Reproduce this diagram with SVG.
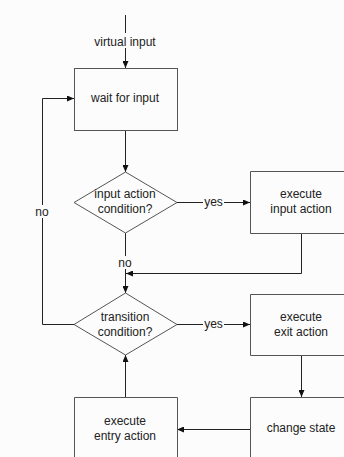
<svg xmlns="http://www.w3.org/2000/svg" width="344" height="457" viewBox="0 0 344 457">
<style>
.bg{fill:#fcfcfc}
.box{fill:none;stroke:#555;stroke-width:1}
.dia{fill:none;stroke:#555;stroke-width:1}
.ln{fill:none;stroke:#222;stroke-width:1}
text{font-family:"Liberation Sans",Arial,sans-serif;font-size:12px;fill:#222;text-anchor:middle}
</style>
<defs>
<marker id="ah" markerWidth="7" markerHeight="6" refX="7" refY="3" orient="auto" markerUnits="userSpaceOnUse">
<path d="M0,0 L7,3 L0,6 Z" fill="#111"/>
</marker>
</defs>
<rect class="bg" x="0" y="0" width="344" height="457"/>
<g id="connectors">
<line class="ln" x1="125.5" y1="15" x2="125.5" y2="33"/>
<line class="ln" x1="125.5" y1="48" x2="125.5" y2="68" marker-end="url(#ah)"/>
<line class="ln" x1="125.5" y1="130" x2="125.5" y2="172" marker-end="url(#ah)"/>
<line class="ln" x1="177" y1="202.5" x2="203" y2="202.5"/>
<line class="ln" x1="224" y1="202.5" x2="250" y2="202.5" marker-end="url(#ah)"/>
<polyline class="ln" points="301.5,233 301.5,273.5 126,273.5" marker-end="url(#ah)"/>
<line class="ln" x1="125.5" y1="233" x2="125.5" y2="256"/>
<line class="ln" x1="125.5" y1="269" x2="125.5" y2="293" marker-end="url(#ah)"/>
<line class="ln" x1="177" y1="324.5" x2="203" y2="324.5"/>
<line class="ln" x1="224" y1="324.5" x2="250" y2="324.5" marker-end="url(#ah)"/>
<polyline class="ln" points="74,324.5 42.5,324.5 42.5,218"/>
<polyline class="ln" points="42.5,205 42.5,98.5 74,98.5" marker-end="url(#ah)"/>
<line class="ln" x1="301.5" y1="355" x2="301.5" y2="397" marker-end="url(#ah)"/>
<line class="ln" x1="250" y1="429.5" x2="177" y2="429.5" marker-end="url(#ah)"/>
<line class="ln" x1="125.5" y1="397" x2="125.5" y2="355" marker-end="url(#ah)"/>
<text x="125" y="46">virtual input</text>
<text x="213.5" y="206">yes</text>
<text x="125" y="267">no</text>
<text x="42" y="216">no</text>
<text x="213.5" y="328">yes</text>
</g>
<g id="wait">
<rect class="box" x="74.5" y="68.5" width="103" height="62"/>
<text x="125" y="102">wait for input</text>
</g>
<g id="inputcond">
<polygon class="dia" points="125.5,172 177,202.5 125.5,233 74,202.5"/>
<text x="125" y="198">input action</text>
<text x="125" y="213">condition?</text>
</g>
<g id="inputaction">
<path class="box" d="M345,171.5 H250.5 V233.5 H345"/>
<text x="301" y="198">execute</text>
<text x="301" y="213">input action</text>
</g>
<g id="transcond">
<polygon class="dia" points="125.5,293 177,324.5 125.5,355 74,324.5"/>
<text x="125" y="321">transition</text>
<text x="125" y="336">condition?</text>
</g>
<g id="exitaction">
<path class="box" d="M345,294.5 H250.5 V355.5 H345"/>
<text x="301" y="321">execute</text>
<text x="301" y="336">exit action</text>
</g>
<g id="changestate">
<path class="box" d="M345,397.5 H250.5 V460"/>
<text x="301" y="432">change state</text>
</g>
<g id="entryaction">
<path class="box" d="M74.5,460 V397.5 H177.5 V460"/>
<text x="125" y="425">execute</text>
<text x="125" y="440">entry action</text>
</g>
</svg>
